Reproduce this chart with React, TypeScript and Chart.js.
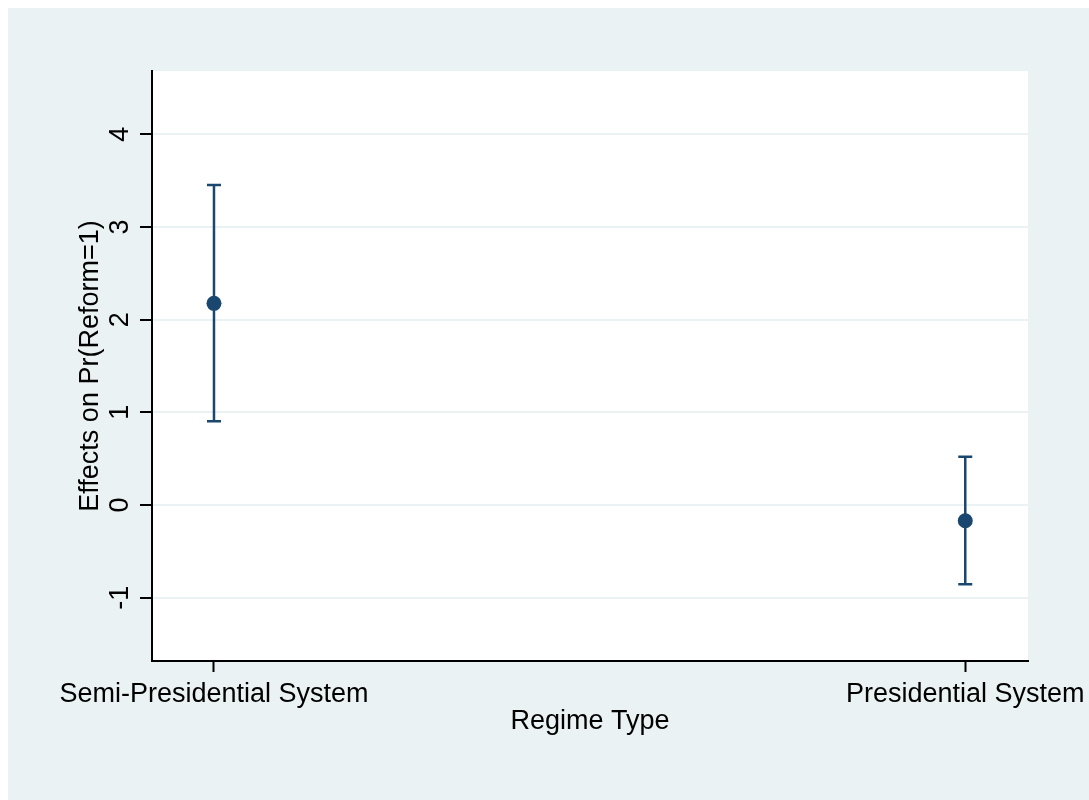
import React, { useEffect, useRef } from 'react';
import { Chart, registerables } from 'chart.js';

Chart.register(...registerables);

const categories = ['Semi-Presidential System', 'Presidential System'];
const positions = [1, 2];
const estimates = [2.176, -0.169];
const lowerCI = [0.903, -0.855];
const upperCI = [3.452, 0.521];
const yTicks = [-1, 0, 1, 2, 3, 4];

const FONT = '"Liberation Sans", Arial, sans-serif';
const BG = '#eaf2f3';
const NAVY = '#1a476f';

if (typeof document !== 'undefined') {
  document.body.style.margin = '0';
  document.documentElement.style.overflow = 'hidden';
  document.body.style.overflow = 'hidden';
}

export default function App() {
  const ref = useRef<HTMLCanvasElement>(null);

  useEffect(() => {
    const canvas = ref.current!;

    const bgPlugin = {
      id: 'bg',
      beforeDraw(chart: any) {
        const { ctx, chartArea: a } = chart;
        ctx.save();
        ctx.fillStyle = BG;
        ctx.fillRect(0, 0, chart.canvas.width, chart.canvas.height);
        ctx.fillStyle = '#ffffff';
        ctx.fillRect(a.left, a.top, a.right - a.left, a.bottom - a.top);
        ctx.restore();
      },
    };

    const errPlugin = {
      id: 'err',
      beforeDatasetsDraw(chart: any) {
        const { ctx } = chart;
        const xs = chart.scales.x;
        const ys = chart.scales.y;
        ctx.save();
        ctx.strokeStyle = NAVY;
        ctx.lineWidth = 2.5;
        for (let i = 0; i < positions.length; i++) {
          const px = xs.getPixelForValue(positions[i]);
          const yl = ys.getPixelForValue(lowerCI[i]);
          const yu = ys.getPixelForValue(upperCI[i]);
          ctx.beginPath();
          ctx.moveTo(px, yl);
          ctx.lineTo(px, yu);
          ctx.moveTo(px - 7, yl);
          ctx.lineTo(px + 7, yl);
          ctx.moveTo(px - 7, yu);
          ctx.lineTo(px + 7, yu);
          ctx.stroke();
        }
        ctx.restore();
      },
    };

    const labelPlugin = {
      id: 'labels',
      afterDraw(chart: any) {
        const { ctx, chartArea: a } = chart;
        const ys = chart.scales.y;
        const xs = chart.scales.x;
        ctx.save();
        ctx.font = `27px ${FONT}`;
        ctx.fillStyle = '#000';
        ctx.textAlign = 'center';
        ctx.textBaseline = 'alphabetic';
        for (const t of ys.ticks) {
          const py = ys.getPixelForValue(t.value);
          ctx.save();
          ctx.translate(120, py);
          ctx.rotate(-Math.PI / 2);
          ctx.fillText(String(t.value), 0, 0);
          ctx.restore();
        }
        ctx.textBaseline = 'top';
        for (const t of xs.ticks) {
          const px = xs.getPixelForValue(t.value);
          const label = categories[positions.indexOf(Number(t.value))] ?? '';
          ctx.fillText(label, px, a.bottom + 20);
        }
        ctx.restore();
      },
    };

    const chart = new Chart(canvas, {
      type: 'scatter',
      data: {
        datasets: [
          {
            data: positions.map((p, i) => ({ x: p, y: estimates[i] })),
            backgroundColor: NAVY,
            borderColor: NAVY,
            borderWidth: 0,
            pointRadius: 7.5,
            pointHoverRadius: 7.5,
          },
        ],
      },
      options: {
        responsive: false,
        animation: false,
        devicePixelRatio: 1,
        events: [],
        layout: { padding: { top: 63, right: 61, left: 0, bottom: 0 } },
        plugins: { legend: { display: false }, tooltip: { enabled: false } },
        scales: {
          x: {
            type: 'linear',
            position: 'bottom',
            min: 0.9175,
            max: 2.0835,
            afterBuildTicks: (s: any) => {
              s.ticks = positions.map((v) => ({ value: v }));
            },
            afterFit: (s: any) => {
              s.height = 139;
              s.paddingLeft = 0;
              s.paddingRight = 0;
            },
            ticks: { display: false },
            grid: {
              drawOnChartArea: false,
              drawTicks: true,
              tickLength: 11,
              tickColor: '#000',
              tickWidth: 2,
            },
            border: { display: true, color: '#000', width: 2 },
            title: {
              display: true,
              text: 'Regime Type',
              font: { family: FONT, size: 27 },
              color: '#000',
              padding: { top: 0, bottom: 62 },
            },
          },
          y: {
            type: 'linear',
            min: -1.683,
            max: 4.683,
            afterBuildTicks: (s: any) => {
              s.ticks = yTicks.map((v) => ({ value: v }));
            },
            afterFit: (s: any) => {
              s.width = 144;
            },
            ticks: { display: false },
            grid: {
              color: BG,
              lineWidth: 2,
              drawTicks: true,
              tickLength: 12,
              tickColor: '#000',
              tickWidth: 2,
            },
            border: { display: true, color: '#000', width: 2 },
            title: {
              display: true,
              text: 'Effects on Pr(Reform=1)',
              font: { family: FONT, size: 27 },
              color: '#000',
              padding: { top: 66, bottom: 0 },
            },
          },
        },
      },
      plugins: [bgPlugin, errPlugin, labelPlugin],
    } as any);

    return () => chart.destroy();
  }, []);

  return (
    <div style={{ paddingTop: 8, paddingLeft: 8, width: 1081, height: 792 }}>
      <canvas ref={ref} width={1081} height={792} style={{ display: 'block', width: 1081, height: 792 }} />
    </div>
  );
}
